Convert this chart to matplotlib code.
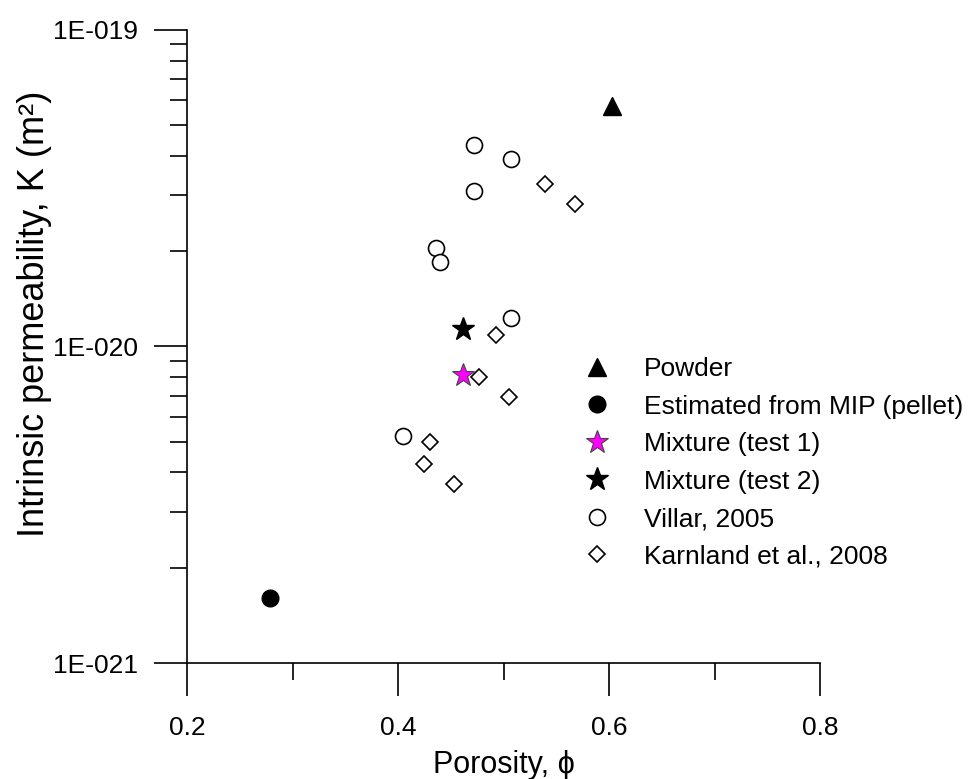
import matplotlib
matplotlib.use("Agg")
import matplotlib.pyplot as plt
from matplotlib.ticker import LogLocator, NullFormatter, FixedLocator

plt.rcParams['font.family'] = ['Liberation Sans', 'DejaVu Sans']

# Data
powder_x = [0.603]
powder_k = [5.75e-20]
mip_x = [0.279]
mip_k = [1.6e-21]
mix1_x = [0.462]
mix1_k = [8.1e-21]
mix2_x = [0.462]
mix2_k = [1.135e-20]
villar_x = [0.472, 0.507, 0.472, 0.436, 0.440, 0.507, 0.405]
villar_k = [4.33e-20, 3.91e-20, 3.10e-20, 2.05e-20, 1.85e-20, 1.23e-20, 5.21e-21]
karn_x = [0.539, 0.568, 0.493, 0.477, 0.505, 0.430, 0.425, 0.453]
karn_k = [3.26e-20, 2.82e-20, 1.09e-20, 8.01e-21, 6.92e-21, 4.99e-21, 4.25e-21, 3.68e-21]

x_major = [0.2, 0.4, 0.6, 0.8]
x_major_labels = ["0.2", "0.4", "0.6", "0.8"]
x_minor = [0.3, 0.5, 0.7]
y_major = [1e-21, 1e-20, 1e-19]
y_major_labels = ["1E-021", "1E-020", "1E-019"]

fig = plt.figure(figsize=(9.73, 7.79), dpi=100)
ax = fig.add_axes([0.1922, 0.1489, 0.6506, 0.8126])

ax.plot(powder_x, powder_k, linestyle='none', marker='^', ms=13, mfc='black', mec='black', label='Powder')
ax.plot(mip_x, mip_k, linestyle='none', marker='o', ms=12, mfc='black', mec='black', label='Estimated from MIP (pellet)')
ax.plot(mix1_x, mix1_k, linestyle='none', marker='*', ms=17, mfc='#ff00ff', mec='#444444', mew=0.8, label='Mixture (test 1)')
ax.plot(mix2_x, mix2_k, linestyle='none', marker='*', ms=17, mfc='black', mec='black', label='Mixture (test 2)')
ax.plot(villar_x, villar_k, linestyle='none', marker='o', ms=11.5, mfc='white', mec='black', mew=1.2, label='Villar, 2005')
ax.plot(karn_x, karn_k, linestyle='none', marker='D', ms=8.5, mfc='white', mec='black', mew=1.2, label='Karnland et al., 2008')

ax.set_yscale('log')
ax.set_xlim(0.2, 0.8)
ax.set_ylim(1e-21, 1e-19)

for s in ['top', 'right']:
    ax.spines[s].set_visible(False)
for s in ['left', 'bottom']:
    ax.spines[s].set_linewidth(1.2)

ax.xaxis.set_major_locator(FixedLocator(x_major))
ax.set_xticklabels(x_major_labels)
ax.xaxis.set_minor_locator(FixedLocator(x_minor))
ax.yaxis.set_major_locator(FixedLocator(y_major))
ax.set_yticklabels(y_major_labels)
ax.yaxis.set_minor_locator(LogLocator(base=10, subs=range(2, 10)))
ax.yaxis.set_minor_formatter(NullFormatter())

ax.tick_params(axis='both', which='major', direction='out', length=24, width=1.2, labelsize=19)
ax.tick_params(axis='both', which='minor', direction='out', length=12, width=1.2)
ax.tick_params(axis='x', which='major', pad=14)
ax.tick_params(axis='y', which='major', pad=11)

ax.set_xlabel('Porosity, ϕ', fontsize=22)
ax.set_ylabel('Intrinsic permeability, K (m²)', fontsize=26)
ax.xaxis.set_label_coords(0.5, -0.138)
ax.yaxis.set_label_coords(-0.214, 0.551)

leg = ax.legend(loc='upper left', bbox_to_anchor=(0.622, 0.483), frameon=False, fontsize=19,
                handletextpad=1.2, labelspacing=0.51, borderaxespad=0, borderpad=0,
                handlelength=1.2)

fig.savefig('out.png', dpi=100)
